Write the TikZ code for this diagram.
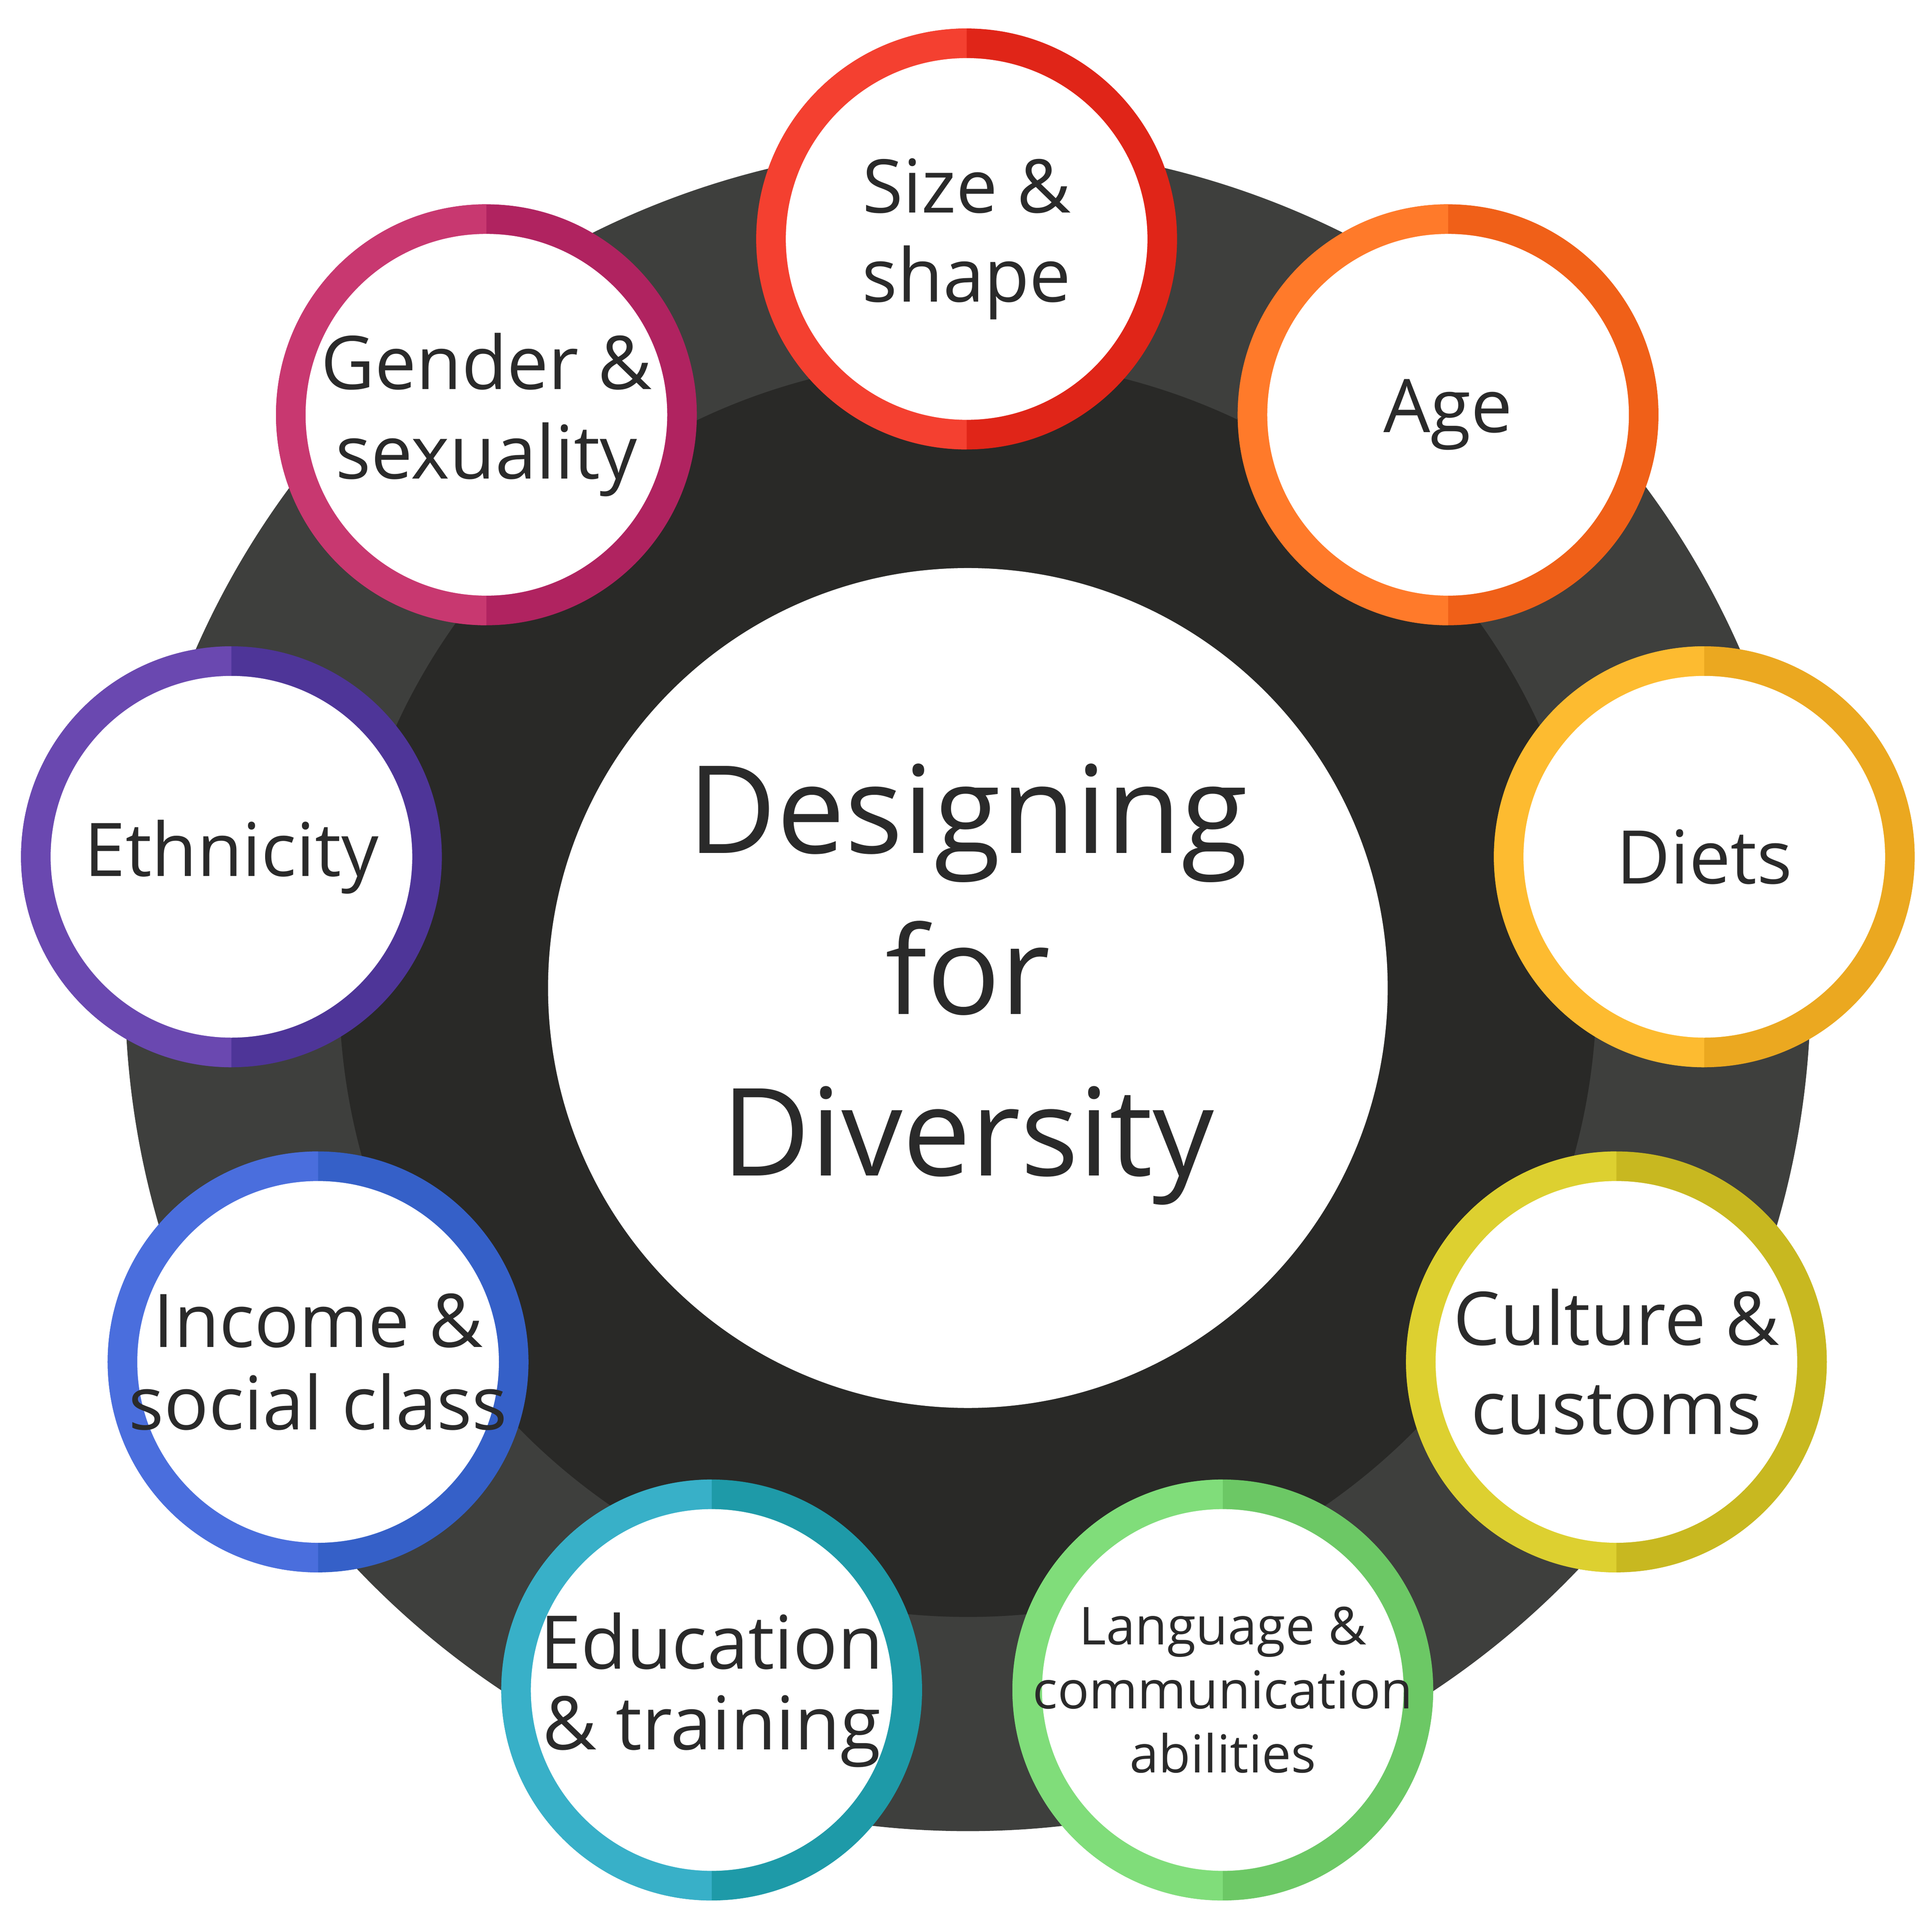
\documentclass[tikz,border=0pt]{standalone}
\usepackage{fontspec}
\setmainfont{Open Sans}
\definecolor{txt}{HTML}{2A2A2A}
\definecolor{ringg}{HTML}{3E3F3D}
\definecolor{diskg}{HTML}{292927}
\definecolor{sL}{HTML}{F44030}\definecolor{sR}{HTML}{E02518}
\definecolor{aL}{HTML}{FF7A2A}\definecolor{aR}{HTML}{F06018}
\definecolor{dL}{HTML}{FDBB30}\definecolor{dR}{HTML}{EBA820}
\definecolor{cL}{HTML}{DDD030}\definecolor{cR}{HTML}{C8B820}
\definecolor{lL}{HTML}{80DD7A}\definecolor{lR}{HTML}{6CC865}
\definecolor{eL}{HTML}{38B0C8}\definecolor{eR}{HTML}{1E9AA8}
\definecolor{iL}{HTML}{4A6EDD}\definecolor{iR}{HTML}{3560C8}
\definecolor{tL}{HTML}{6A48B0}\definecolor{tR}{HTML}{4E3598}
\definecolor{gL}{HTML}{C83870}\definecolor{gR}{HTML}{B02360}
\newcommand{\smc}[8]{%
  \begin{scope}
  \clip (#2-175,#3-175) rectangle (#2+175,#3+175);
  \fill[#5] (#2,#3) circle (170);
  \clip (#2-175,#3-175) rectangle (#2,#3+175);
  \fill[#4] (#2,#3) circle (170);
  \end{scope}
  \node[whitec] (#1) at (#2,#3) {};
  \node[lab,font=\fontsize{#7}{#8}\selectfont] at (#2,#3) {#6};}
\begin{document}
\begin{tikzpicture}[x=0.01cm,y=-0.01cm,
  whitec/.style={circle,fill=white,inner sep=0,minimum size=2.92cm},
  lab/.style={align=center,text=txt}]
\useasboundingbox (0,0) rectangle (1561,1553);
\fill[white] (0,0) rectangle (1561,1553);
\fill[ringg] (782,798) circle (681);
\fill[diskg] (782,798) circle (508);
\node[circle,fill=white,minimum size=6.78cm,inner sep=0] (center) at (782,798) {};
\node[lab,font=\fontsize{28}{37}\selectfont] at (782,795) {Designing\\for\\Diversity};
\smc{size}{781}{193}{sL}{sR}{Size \&\\shape}{17}{20.5}
\smc{age}{1170}{335}{aL}{aR}{Age}{17}{20.5}
\smc{diets}{1377}{692}{dL}{dR}{Diets}{17}{20.5}
\smc{culture}{1306}{1100}{cL}{cR}{Culture \&\\customs}{17}{20.5}
\smc{lang}{988}{1365}{lL}{lR}{Language \&\\communication\\abilities}{12}{14.7}
\smc{edu}{575}{1365}{eL}{eR}{Education\\\& training}{17}{18.5}
\smc{income}{257}{1100}{iL}{iR}{Income \&\\social class}{17}{19}
\smc{eth}{187}{692}{tL}{tR}{Ethnicity}{17}{20.5}
\smc{gender}{393}{335}{gL}{gR}{Gender \&\\sexuality}{17}{20.5}
\end{tikzpicture}
\end{document}
